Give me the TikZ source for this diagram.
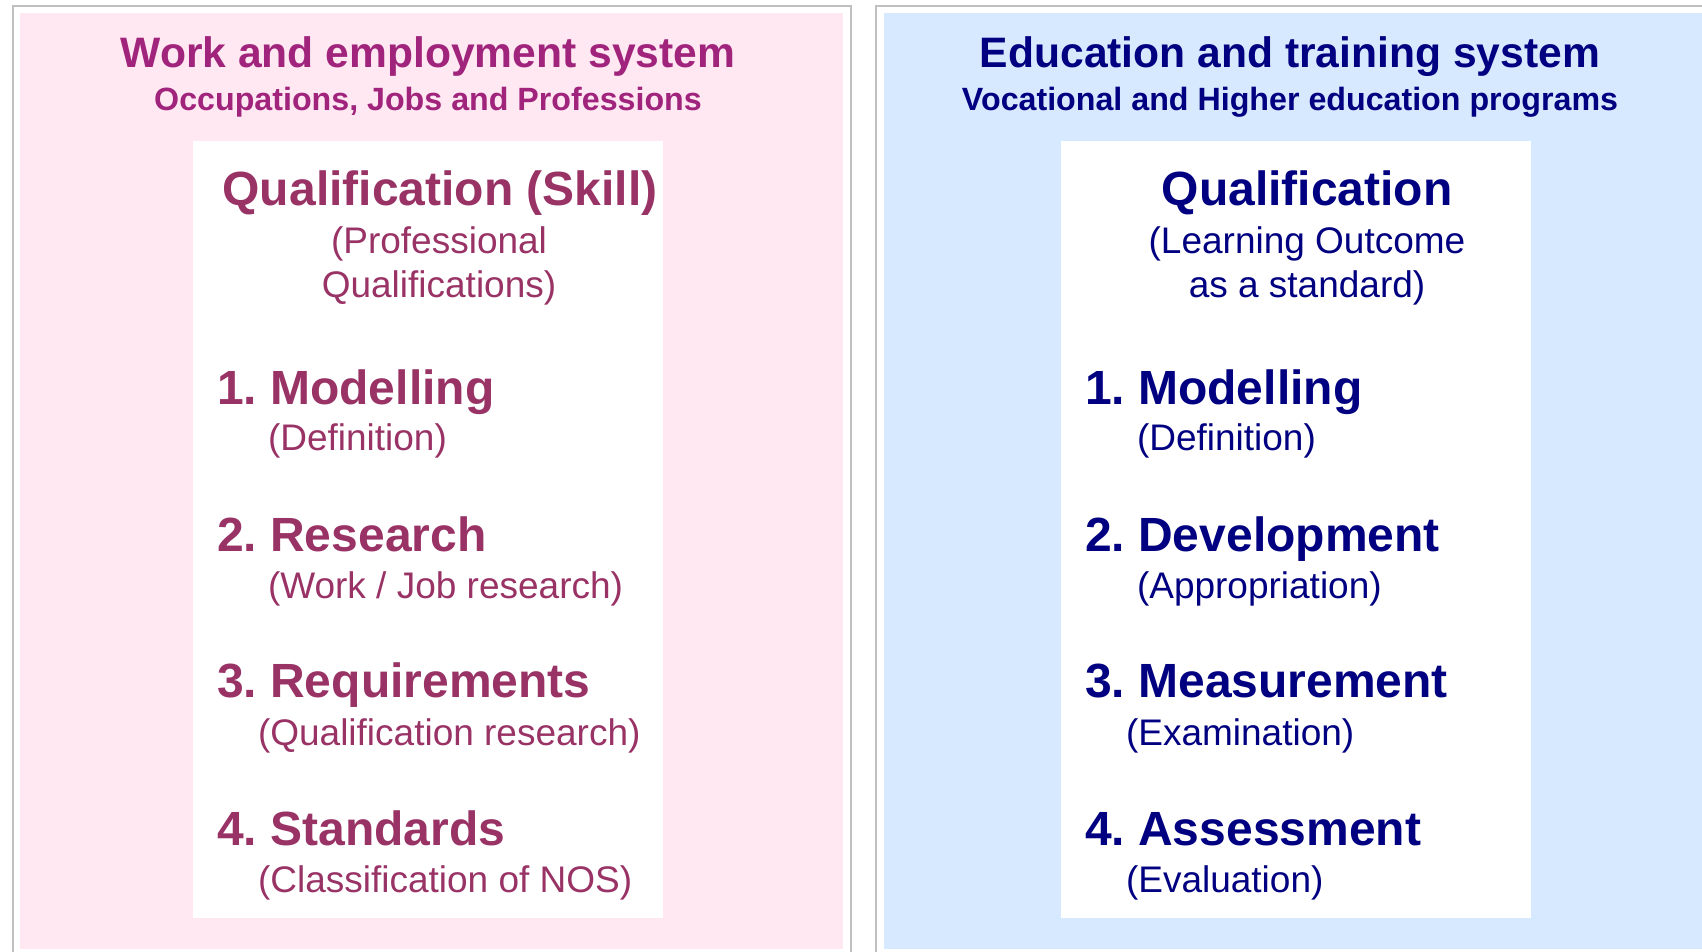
\documentclass[tikz,border=0pt]{standalone}
\usepackage{fontspec}
\setmainfont{Liberation Sans}
\frenchspacing
\definecolor{pinkfill}{HTML}{FFE8F2}
\definecolor{bluefill}{HTML}{D6E9FF}
\definecolor{framegray}{HTML}{C0C0C0}
\definecolor{magtitle}{HTML}{A0237C}
\definecolor{magtext}{HTML}{993366}
\definecolor{navy}{HTML}{000080}
\tikzset{
  txt/.style={inner sep=0pt, outer sep=0pt},
  ttl/.style={txt, anchor=base, font=\fontsize{42.6}{44}\selectfont\bfseries},
  subttl/.style={txt, anchor=base, font=\fontsize{32.2}{34}\selectfont\bfseries},
  head/.style={txt, anchor=base, font=\fontsize{48}{50}\selectfont\bfseries},
  headsub/.style={txt, anchor=base, font=\fontsize{37}{39}\selectfont},
  item/.style={txt, anchor=base west, font=\fontsize{48}{50}\selectfont\bfseries},
  itemsub/.style={txt, anchor=base west, font=\fontsize{37}{39}\selectfont},
  frame/.style={draw=framegray, line width=1.5pt},
}
\begin{document}
\begin{tikzpicture}[x=1pt,y=-1pt]
\useasboundingbox (0,0) rectangle (1702,952);
% frames
\draw[frame] (13,960) -- (13,6) -- (851,6) -- (851,960);
\draw[frame] (876,960) -- (876,6) -- (1710,6);
% panels
\fill[pinkfill] (20,13) rectangle (843,949);
\fill[bluefill] (884,13) rectangle (1702,949);
\fill[white] (193,141) rectangle (663,918);
\fill[white] (1061,141) rectangle (1531,918);
% left panel
\node[ttl, text=magtitle] (lt) at (428,68) {Work and employment system};
\node[subttl, text=magtitle] (ls) at (428,111) {Occupations, Jobs and Professions};
\node[head, text=magtext] (lq) at (440,205) {Qualification (Skill)};
\node[headsub, text=magtext] (lq1) at (439,253) {(Professional};
\node[headsub, text=magtext] (lq2) at (439,297) {Qualifications)};
\node[item, text=magtext] (l1) at (217,404) {1. Modelling};
\node[itemsub, text=magtext] (l1s) at (268,450) {(Definition)};
\node[item, text=magtext] (l2) at (217,551) {2. Research};
\node[itemsub, text=magtext] (l2s) at (268,598) {(Work / Job research)};
\node[item, text=magtext] (l3) at (217,697) {3. Requirements};
\node[itemsub, text=magtext] (l3s) at (258,745) {(Qualification research)};
\node[item, text=magtext] (l4) at (217,845) {4. Standards};
\node[itemsub, text=magtext] (l4s) at (258,892) {(Classification of NOS)};
% right panel
\node[ttl, text=navy] (rt) at (1290,68) {Education and training system};
\node[subttl, text=navy] (rs) at (1290,111) {Vocational and Higher education programs};
\node[head, text=navy] (rq) at (1307,205) {Qualification};
\node[headsub, text=navy] (rq1) at (1307,253) {(Learning Outcome};
\node[headsub, text=navy] (rq2) at (1307,297) {as a standard)};
\node[item, text=navy] (r1) at (1085,404) {1. Modelling};
\node[itemsub, text=navy] (r1s) at (1137,450) {(Definition)};
\node[item, text=navy] (r2) at (1085,551) {2. Development};
\node[itemsub, text=navy] (r2s) at (1137,598) {(Appropriation)};
\node[item, text=navy] (r3) at (1085,697) {3. Measurement};
\node[itemsub, text=navy] (r3s) at (1126,745) {(Examination)};
\node[item, text=navy] (r4) at (1085,845) {4. Assessment};
\node[itemsub, text=navy] (r4s) at (1126,892) {(Evaluation)};
\end{tikzpicture}
\end{document}
